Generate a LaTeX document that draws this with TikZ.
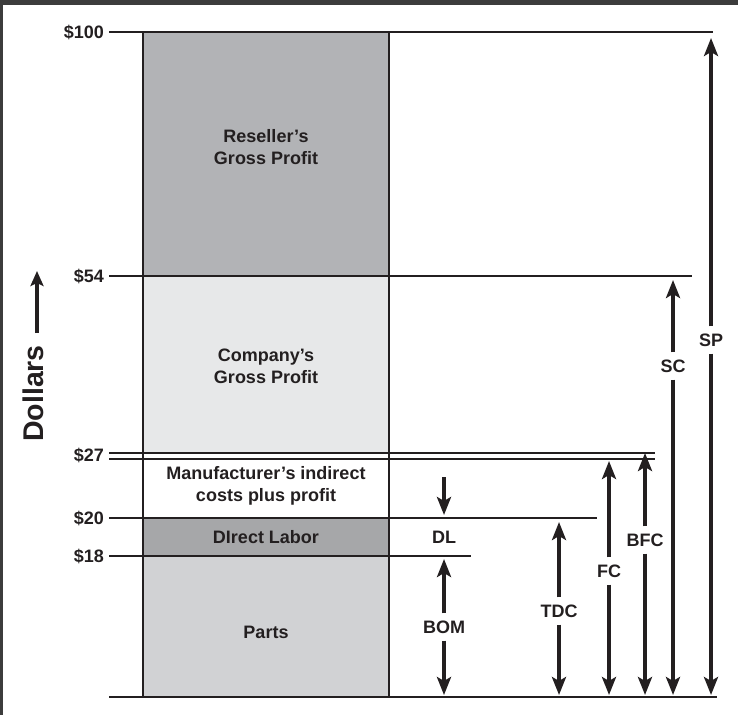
\documentclass[tikz,border=0pt]{standalone}
\usepackage{fontspec}
\setmainfont{Liberation Sans}
\usetikzlibrary{arrows.meta}

\definecolor{ink}{HTML}{231F20}
\definecolor{framegray}{HTML}{3C3C3C}
\definecolor{resellerfill}{HTML}{B2B3B6}
\definecolor{companyfill}{HTML}{E7E8E9}
\definecolor{laborfill}{HTML}{A6A7A9}
\definecolor{partsfill}{HTML}{D1D2D4}

\newcommand\labelfont{\bfseries\fontsize{18}{22}\selectfont}
\newcommand\axisfont{\bfseries\fontsize{28.5}{28.5}\selectfont}

\begin{document}
\begin{tikzpicture}[x=1pt,y=-1pt,
  every node/.style={text=ink,font=\labelfont},
  level/.style={anchor=east,inner sep=0pt},
  rule/.style={draw=ink,line width=2.3pt},
  barlabel/.style={align=center,inner sep=0pt},
  dimlabel/.style={inner xsep=0pt,inner ysep=7pt,text height=13pt,text depth=0pt},
  dim/.style={draw=ink,line width=4pt,-{Stealth[length=18pt,width=14pt,inset=4pt]}},
  axisarrow/.style={draw=ink,line width=3.5pt,-{Stealth[length=15pt,width=13pt,inset=3pt]}}]
\useasboundingbox (0,0) rectangle (738,715);

% dark frame along the top and left edges
\fill[framegray] (0,0) rectangle (738,5);
\fill[framegray] (0,0) rectangle (3,715);

% stacked price bar
\fill[resellerfill] (143,32) rectangle (389,276);
\fill[companyfill] (143,276) rectangle (389,453);
\fill[laborfill] (143,518) rectangle (389,556);
\fill[partsfill] (143,556) rectangle (389,697);

% price levels
\node[level] (v100) at (104,32) {\$100};
\node[level] (v54) at (104,276) {\$54};
\node[level] (v27) at (104,455) {\$27};
\node[level] (v20) at (104,518) {\$20};
\node[level] (v18) at (104,556) {\$18};

\coordinate (e100) at (713,32);
\coordinate (e54) at (692,276);
\coordinate (e27) at (655,456);
\coordinate (e20) at (597,518);
\coordinate (e18) at (471,556);
\coordinate (base0) at (109,697);
\coordinate (base1) at (717,697);

\draw[rule] ([xshift=5pt]v100.east) -- (e100);
\draw[rule] ([xshift=5pt]v54.east) -- (e54);
\draw[draw=ink,line width=2pt,double=white,double distance=4.5pt]
  (109,456) -- (e27);
\draw[rule] ([xshift=5pt]v20.east) -- (e20);
\draw[rule] ([xshift=5pt]v18.east) -- (e18);
\draw[rule] (base0) -- (base1);
\draw[rule] (143,32) rectangle (389,697);

% segment names
\node[barlabel] (reseller) at (266,147) {Reseller’s\\Gross Profit};
\node[barlabel] (company) at (266,366) {Company’s\\Gross Profit};
\node[barlabel] (mfr) at (266,486) {Manufacturer’s indirect\\costs plus profit};
\node[barlabel] (labor) at (266,537) {DIrect Labor};
\node[barlabel] (parts) at (266,632) {Parts};

% vertical axis title
\node[rotate=90,font=\axisfont,inner sep=0pt,anchor=east] (dollars) at (33,345) {Dollars};
\coordinate (axistip) at (37,271);
\draw[axisarrow,shorten <=12pt] (dollars.east -| axistip) -- (axistip);

% direct labor markers
\node[barlabel] (dl) at (444,537) {DL};
\coordinate (dlfrom) at (444,477);
\coordinate (dlto) at (444,515);
\draw[dim] (dlfrom) -- (dlto);

% cost dimensions
\node[dimlabel] (bom) at (444,627) {BOM};
\node[dimlabel] (tdc) at (559,611) {TDC};
\node[dimlabel] (fc) at (609,571) {FC};
\node[dimlabel] (bfc) at (645,540) {BFC};
\node[dimlabel] (sc) at (673,366) {SC};
\node[dimlabel] (sp) at (711,340) {SP};

\coordinate (bomtop) at (444,559);
\coordinate (tdctop) at (559,522);
\coordinate (fctop) at (609,461);
\coordinate (bfctop) at (645,453);
\coordinate (sctop) at (673,280);
\coordinate (sptop) at (711,38);

\foreach \d in {bom,tdc,fc,bfc,sc,sp}{
  \draw[dim] (\d.north) -- (\d top);
  \draw[dim] (\d.south) -- (\d.south |- 0,695);
}
\end{tikzpicture}
\end{document}
